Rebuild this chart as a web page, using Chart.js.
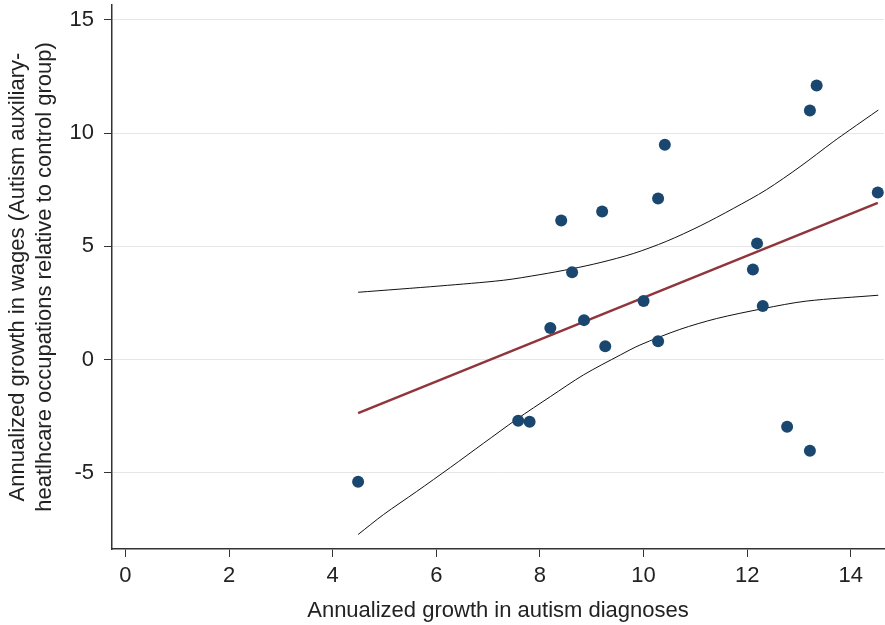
<!DOCTYPE html>
<html>
<head>
<meta charset="utf-8">
<script src="https://cdn.jsdelivr.net/npm/chart.js@4.4.1/dist/chart.umd.min.js"></script>
<style>
  html, body { margin: 0; padding: 0; background: #fff; }
  canvas { display: block; }
</style>
</head>
<body>
<canvas id="chart" width="885" height="625"></canvas>
<script>
// scatter: annualized growth in autism diagnoses vs wages
const diagX = [4.49, 7.58, 7.80, 8.20, 8.41, 8.62, 8.85, 9.20, 9.26, 10.00, 10.28,
               10.28, 10.41, 12.11, 12.19, 12.30, 12.77, 13.21, 13.21, 13.34, 14.52];
const wageY = [-5.40, -2.71, -2.75, 1.39, 6.14, 3.85, 1.74, 6.54, 0.59, 2.58, 0.81,
               7.11, 9.49, 3.98, 5.13, 2.36, -2.97, -4.03, 11.00, 12.10, 7.38];

// fitted line
const fitX = [4.49, 14.52];
const fitY = [-2.37, 6.92];

// confidence band
const upperX = [4.49, 6.07, 7.29, 8.00, 8.62, 9.16, 9.80, 10.44, 11.09, 11.73, 12.37, 13.02, 13.66, 13.98, 14.53];
const upperY = [2.97, 3.25, 3.50, 3.75, 4.01, 4.28, 4.68, 5.22, 5.90, 6.67, 7.50, 8.52, 9.62, 10.14, 11.02];
const lowerX = [4.49, 4.98, 5.62, 6.27, 6.91, 7.55, 8.20, 8.84, 9.55, 9.93, 10.70, 11.41, 12.31, 13.14, 14.53];
const lowerY = [-7.73, -6.85, -5.83, -4.77, -3.70, -2.64, -1.64, -0.68, 0.20, 0.64, 1.33, 1.81, 2.25, 2.58, 2.84];

const xTicks = [0, 2, 4, 6, 8, 10, 12, 14];
const yTicks = [-5, 0, 5, 10, 15];

const FONT = '"Liberation Sans", Arial, Helvetica, sans-serif';

function toPoints(xs, ys) {
  return xs.map((x, i) => ({ x: x, y: ys[i] }));
}

new Chart(document.getElementById('chart'), {
  type: 'scatter',
  data: {
    datasets: [
      {
        data: toPoints(diagX, wageY),
        pointRadius: 6,
        pointHoverRadius: 6,
        pointBackgroundColor: '#1a476f',
        pointBorderWidth: 0,
        order: 0
      },
      {
        data: toPoints(fitX, fitY),
        showLine: true,
        borderColor: '#90353b',
        borderWidth: 2.5,
        pointRadius: 0,
        order: 1
      },
      {
        data: toPoints(upperX, upperY),
        showLine: true,
        borderColor: '#111',
        borderWidth: 1,
        pointRadius: 0,
        tension: 0.3,
        order: 2
      },
      {
        data: toPoints(lowerX, lowerY),
        showLine: true,
        borderColor: '#111',
        borderWidth: 1,
        pointRadius: 0,
        tension: 0.3,
        order: 2
      }
    ]
  },
  options: {
    responsive: false,
    animation: false,
    layout: { autoPadding: false, padding: { top: 5, right: 1, left: 0, bottom: 0 } },
    plugins: {
      legend: { display: false },
      tooltip: { enabled: false }
    },
    scales: {
      x: {
        type: 'linear',
        min: -0.26,
        max: 14.64,
        afterBuildTicks: s => { s.ticks = xTicks.map(v => ({ value: v })); },
        afterFit: s => { s.height = 76; s.paddingLeft = 0; s.paddingRight = 0; },
        grid: { drawOnChartArea: false, tickLength: 8, tickColor: '#333', tickWidth: 1 },
        border: { color: '#333', width: 1.5 },
        ticks: { autoSkip: false, maxRotation: 0, padding: 6, color: '#222', font: { family: FONT, size: 22 } },
        title: {
          display: true,
          text: 'Annualized growth in autism diagnoses',
          color: '#222',
          font: { family: FONT, size: 22, lineHeight: 1.2 },
          padding: { top: 0, bottom: 1 }
        }
      },
      y: {
        min: -8.37,
        max: 15.66,
        afterBuildTicks: s => { s.ticks = yTicks.map(v => ({ value: v })); },
        afterFit: s => { s.width = 112; s.paddingTop = 0; s.paddingBottom = 0; },
        grid: { color: '#e6e6e6', lineWidth: 1, tickLength: 8, tickColor: '#333', tickWidth: 1 },
        border: { color: '#333', width: 1.5 },
        ticks: { autoSkip: false, padding: 10, color: '#222', font: { family: FONT, size: 22 } },
        title: {
          display: true,
          text: ['Annualized growth in wages (Autism auxiliary-',
                 'heatlhcare occupations relative to control group)'],
          color: '#222',
          font: { family: FONT, size: 22, lineHeight: 1.25 },
          padding: { top: 4, bottom: 0 }
        }
      }
    }
  }
});
</script>
</body>
</html>
